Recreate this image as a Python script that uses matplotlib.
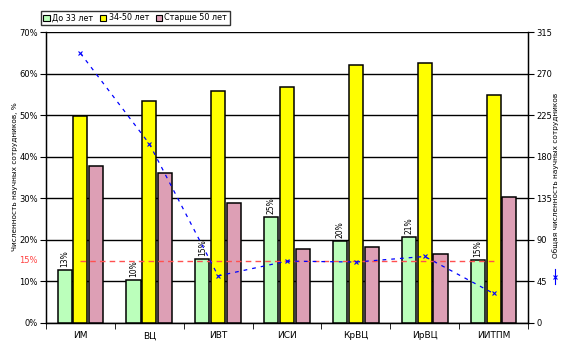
import matplotlib
matplotlib.use("Agg")
import matplotlib.pyplot as plt
import numpy as np
from matplotlib.patches import Patch

plt.rcParams['font.family'] = ['DejaVu Sans']
plt.rcParams['font.size'] = 6

# data
institutes = ["ИМ", "ВЦ", "ИВТ", "ИСИ", "КрВЦ", "ИрВЦ", "ИИТПМ"]
young = [12.7, 10.3, 15.3, 25.4, 19.7, 20.6, 15.1]      # До 33 лет, %
middle = [49.7, 53.3, 55.7, 56.7, 62.0, 62.5, 54.8]     # 34-50 лет, %
old = [37.7, 36.2, 28.8, 17.7, 18.2, 16.5, 30.3]        # Старше 50 лет, %
young_labels = ["13%", "10%", "15%", "25%", "20%", "21%", "15%"]
total = [292, 194, 51, 67, 66, 72, 32]                  # общая численность
avg_young = 15                                          # средний уровень, %

fig = plt.figure(figsize=(5.81, 3.53), dpi=100)
ax = fig.add_axes([46/581, 30/353, 482/581, 291/353])

x = np.arange(len(institutes))
w = 0.205
step = 0.23
kw = dict(edgecolor='black', linewidth=1.1, zorder=3)
ax.bar(x - step, young, w, color='#bbffbb', **kw)
ax.bar(x, middle, w, color='#ffff00', **kw)
ax.bar(x + step, old, w, color='#dd9fb5', **kw)

for xi, v, lab in zip(x, young, young_labels):
    ax.text(xi - step, v + 0.8, lab, rotation=90, ha='center', va='bottom',
            fontsize=5.5, zorder=5)

ax.plot([x[0], x[-1]], [avg_young, avg_young], color='#ff5050',
        linestyle=(0, (4, 3)), linewidth=1, zorder=4)

ax.set_xlim(-0.5, len(institutes) - 0.5)
ax.set_ylim(0, 70)
ax.set_yticks(np.arange(0, 71, 10))
ax.set_yticklabels([f"{t}%" for t in range(0, 71, 10)])
ax.yaxis.grid(True, color='black', linewidth=1)
ax.set_axisbelow(True)
ax.set_xticks(x)
ax.set_xticklabels(institutes, fontsize=6.5)
ax.tick_params(axis='x', which='major', length=0, pad=6)
ax.set_xticks(np.arange(-0.5, len(institutes), 1), minor=True)
ax.tick_params(axis='x', which='minor', length=4, direction='out')
ax.tick_params(axis='y', length=4, direction='out', pad=2)
ax.spines['top'].set_visible(False)
for s in ax.spines.values():
    s.set_linewidth(1)
ax.text(-0.62, avg_young, "15%", color='#ff4040', ha='right', va='center',
        fontsize=6)

ax2 = ax.twinx()
ax2.set_ylim(0, 315)
ax2.set_yticks(np.arange(0, 316, 45))
ax2.tick_params(axis='y', length=4, direction='out', pad=2)
ax2.spines['top'].set_visible(False)
ax2.plot(x, total, color='#0000ff', linestyle=(0, (3, 4)), linewidth=0.9,
         marker='x', markersize=3.5, markeredgewidth=0.8, zorder=6)
# stray marker in right margin
ax2.plot([1.055], [50], transform=ax2.get_yaxis_transform(), marker='x',
         color='#0000ff', markersize=3.5, markeredgewidth=0.8, clip_on=False)
ax2.plot([1.055, 1.055], [42, 58], transform=ax2.get_yaxis_transform(),
         color='#0000ff', linewidth=0.8, clip_on=False)

fig.text(15/581, 176/353, "Численность научных сотрудников, %", rotation=90,
         ha='center', va='center', fontsize=5.3)
fig.text(556/581, 178/353, "Общая численность научных сотрудников",
         rotation=90, ha='center', va='center', fontsize=5.3)

handles = [Patch(facecolor='#bbffbb', edgecolor='black', linewidth=0.8),
           Patch(facecolor='#ffff00', edgecolor='black', linewidth=0.8),
           Patch(facecolor='#dd9fb5', edgecolor='black', linewidth=0.8)]
leg = fig.legend(handles, ["До 33 лет", "34-50 лет", "Старше 50 лет"],
                 loc='upper left', bbox_to_anchor=(41/581, 1 - 11/353),
                 ncol=3, fontsize=5.8, frameon=True, fancybox=False,
                 handlelength=0.8, handleheight=0.8, handletextpad=0.3,
                 columnspacing=0.8, borderpad=0.3, borderaxespad=0)
leg.get_frame().set_edgecolor('black')
leg.get_frame().set_linewidth(1)

fig.savefig("out.png", dpi=100)
